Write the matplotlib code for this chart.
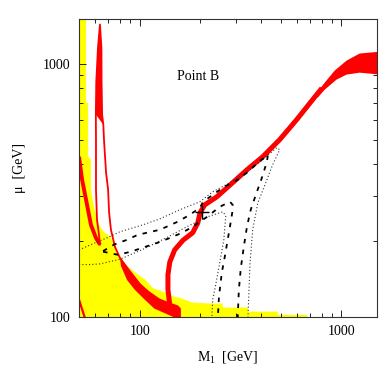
import matplotlib
matplotlib.use("Agg")
import matplotlib.pyplot as plt
from matplotlib.ticker import LogLocator, NullFormatter, FuncFormatter

plt.rcParams['font.family'] = ['Liberation Serif', 'DejaVu Serif']
plt.rcParams['mathtext.fontset'] = 'custom'
plt.rcParams['mathtext.rm'] = 'Liberation Serif'
plt.rcParams['mathtext.it'] = 'Liberation Serif:italic'

# yellow excluded region
excl_m1 = [50, 54.2, 54.2, 55.5, 55.5, 57.3, 57.3, 59.3, 62.8, 66.5, 71.2, 74.5, 78.9,
           85.5, 93.6, 107, 116, 130, 149, 158, 183, 223, 258, 258, 344, 344, 483, 483,
           673, 673, 50]
excl_mu = [1500, 1500, 701, 701, 429, 418, 318, 272, 231, 216, 208, 195, 176,
           161, 151, 140, 130, 126, 120, 119, 114, 113, 113, 109, 109, 105, 105, 102,
           102, 100, 100]

# red: left branch from the axis
left_m1 = [50, 51.8, 54.2, 57.3, 60.7, 63.5]
left_mu = [429, 348, 290, 231, 205, 193]

# red: spike and its outer branch
spike_m1 = [63.5, 62.8, 61.4, 60.7, 60.7, 60.6, 60.9, 62.1, 63.5, 64.6, 64.7, 65.1, 66.0,
            66.5, 68.1, 69.7, 70.5, 72.0, 75.4, 79.8, 88.5, 100, 112, 126, 141, 153]
spike_mu = [193, 211, 242, 318, 501, 629, 849, 1157, 1426, 1157, 849, 629, 574,
            501, 371, 318, 258, 221, 189, 171, 153, 135, 123, 116, 109, 104]

# red: thick lower band ending in the blob
blob_m1 = [79.8, 88.5, 100, 112, 126, 141, 155, 160, 160, 151, 135, 118, 106, 94.6, 86.5, 80.7]
blob_mu = [171, 153, 136, 126, 118, 114, 111, 108, 100, 99, 103, 108, 117, 128, 140, 159]

# red: rising band
rise_m1 = [141, 138, 138, 141, 149, 164, 183, 194, 199, 210, 241, 289, 340, 407, 494, 600, 720, 800]
rise_mu = [111, 128, 147, 165, 184, 201, 215, 235, 258, 277, 298, 339, 381, 429, 501, 601, 721, 800]

# red: flared end of the band
flare_m1 = [762, 826, 925, 1061, 1231, 1550, 1550, 1231, 1061, 946, 826, 762]
flare_mu = [774, 841, 938, 1028, 1096, 1114, 905, 921, 905, 865, 789, 734]

# small red piece bottom-left
corner_m1 = [50, 53.5]
corner_mu = [117, 99]

# dashed contours
dash_out_m1 = [65.8, 74.5, 85.5, 97.9, 126, 153, 177, 199, 206, 230, 258, 306, 344, 385, 432,
               427, 403, 376, 355, 340, 328, 317, 310, 306]
dash_out_mu = [182, 193, 201, 211, 221, 237, 253, 270, 285, 303, 324, 348, 374, 406, 437,
               410, 354, 303, 265, 227, 189, 156, 128, 100]
dash_in_m1 = [65.8, 78.0, 90.4, 106, 122, 141, 162, 183, 215, 249, 280, 289, 289, 280, 264, 255, 247, 244]
dash_in_mu = [181, 176, 181, 189, 196, 205, 215, 227, 248, 272, 285, 277, 265, 227, 173, 149, 120, 100]

# dotted contours
dot_out_m1 = [50, 60.0, 70.5, 79.8, 103.7, 126, 158, 199, 230, 280, 340, 407, 478,
              494, 456, 427, 385, 363, 352, 348, 344]
dot_out_mu = [184, 196, 207, 217, 231, 244, 265, 285, 312, 339, 374, 418, 466,
              457, 399, 348, 282, 221, 163, 128, 100]
dot_in_m1 = [50, 56.7, 63.5, 79.8, 107, 138, 171, 215, 258, 267, 261, 249, 238, 230, 228]
dot_in_mu = [161, 161, 162, 169, 187, 207, 227, 248, 260, 251, 201, 163, 134, 117, 100]

point_b = (203, 260)

fig = plt.figure(figsize=(3.82, 3.82), dpi=100)
ax = fig.add_axes([0.2068, 0.1702, 0.7801, 0.7801])
ax.set_xscale('log')
ax.set_yscale('log')

ax.fill(excl_m1, excl_mu, color='#ffff00', lw=0, zorder=1)

red = '#ff0000'
ax.plot(left_m1, left_mu, color=red, lw=2.8, solid_capstyle='butt', zorder=2)
ax.plot(spike_m1, spike_mu, color=red, lw=1.3, zorder=2)
ax.fill(spike_m1[5:13], spike_mu[5:13], color=red, lw=0, zorder=2)
ax.fill(blob_m1, blob_mu, color=red, lw=0, zorder=2)
ax.plot(rise_m1, rise_mu, color=red, lw=3.6, solid_capstyle='butt', zorder=2)
ax.fill(flare_m1, flare_mu, color=red, lw=0, zorder=2)
ax.plot(corner_m1, corner_mu, color=red, lw=1.6, zorder=2)

ax.plot(dot_out_m1, dot_out_mu, color='#333333', lw=0.8, dashes=(1, 2.0), zorder=3)
ax.plot(dot_in_m1, dot_in_mu, color='#333333', lw=0.8, dashes=(1, 2.0), zorder=3)
ax.plot(dash_out_m1, dash_out_mu, color='black', lw=1.3, dashes=(2.5, 3.5), zorder=3)
ax.plot(dash_in_m1, dash_in_mu, color='black', lw=1.3, dashes=(2.5, 3.5), zorder=3)
ax.plot(*point_b, marker='+', ms=10, mew=1.0, color='black', zorder=4)

ax.text(194, 889, 'Point B', fontsize=10, ha='center', va='center')

ax.set_xlim(50, 1500)
ax.set_ylim(100, 1500)
ax.set_xticks([100, 1000])
ax.set_yticks([100, 1000])
fmt = FuncFormatter(lambda v, p: f"{v:g}")
ax.xaxis.set_major_formatter(fmt)
ax.yaxis.set_major_formatter(fmt)
ax.xaxis.set_minor_locator(LogLocator(base=10, subs=range(2, 10)))
ax.yaxis.set_minor_locator(LogLocator(base=10, subs=range(2, 10)))
ax.xaxis.set_minor_formatter(NullFormatter())
ax.yaxis.set_minor_formatter(NullFormatter())
ax.tick_params(which='both', direction='in', top=True, right=True, width=0.6,
               labelsize=10, pad=6)
ax.tick_params(which='major', length=5)
ax.tick_params(which='minor', length=3)
for s in ax.spines.values():
    s.set_color('#333333')
    s.set_linewidth(0.8)

ax.set_xlabel('M$_1$  [GeV]', fontsize=10, labelpad=8)
ax.set_ylabel('μ  [GeV]', fontsize=10, labelpad=12)

fig.savefig('out.png', dpi=100)
